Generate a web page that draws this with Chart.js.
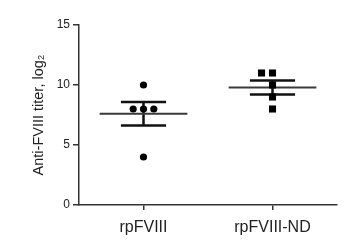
<!DOCTYPE html>
<html>
<head>
<meta charset="utf-8">
<script src="https://cdn.jsdelivr.net/npm/chart.js@4"></script>
<style>
  html, body { margin: 0; padding: 0; background: #fff; }
</style>
</head>
<body>
<canvas id="titerChart" width="350" height="245"></canvas>
<script>
// titer data per group //
const groups = ["rpFVIII", "rpFVIII-ND"];
const rpFVIII = [10, 8, 8, 8, 4];
const rpFVIIIND = [11, 11, 10, 9, 8];
// horizontal spread of the dots (in group units)
const jitterA = [0, -0.08, 0, 0.08, 0];
const jitterB = [-0.085, 0, 0, 0, 0];
const yTicks = [0, 5, 10, 15];

const axisColor = "#333";
const fontName = "'Liberation Sans', Arial, sans-serif";

function mean(arr) {
  return arr.reduce((a, b) => a + b, 0) / arr.length;
}
function sem(arr) {
  const m = mean(arr);
  let ss = 0;
  arr.forEach(v => { ss += (v - m) * (v - m); });
  return Math.sqrt(ss / (arr.length - 1)) / Math.sqrt(arr.length);
}

function dots(values, jitter, center) {
  return values.map((v, i) => ({ x: center + jitter[i], y: v }));
}

// mean line, SEM caps and the stem joining them
function meanSem(values, center) {
  const m = mean(values), s = sem(values);
  const half = 0.34, cap = 0.175;
  const gap = { x: center, y: null };
  return {
    mean: [{ x: center - half, y: m }, { x: center + half, y: m }],
    bars: [
      { x: center - cap, y: m + s }, { x: center + cap, y: m + s }, gap,
      { x: center - cap, y: m - s }, { x: center + cap, y: m - s }, gap,
      { x: center, y: m + s }, { x: center, y: m - s }
    ]
  };
}

const statsA = meanSem(rpFVIII, 1);
const statsB = meanSem(rpFVIIIND, 2);

var ctx = document.getElementById("titerChart").getContext('2d');

var myChart = new Chart(ctx, {
  type: 'scatter',
  data: {
    datasets: [
      {
        label: groups[0],
        data: dots(rpFVIII, jitterA, 1),
        pointStyle: 'circle',
        pointRadius: 3.6,
        backgroundColor: "#000",
        borderWidth: 0
      },
      {
        label: groups[1],
        data: dots(rpFVIIIND, jitterB, 2),
        pointStyle: 'rect',
        pointRadius: 5,
        backgroundColor: "#000",
        borderWidth: 0
      },
      { type: 'line', data: statsA.mean, borderColor: "#3a3a3a", borderWidth: 2, pointRadius: 0, spanGaps: false },
      { type: 'line', data: statsB.mean, borderColor: "#3a3a3a", borderWidth: 2, pointRadius: 0, spanGaps: false },
      { type: 'line', data: statsA.bars, borderColor: "#111", borderWidth: 2.5, pointRadius: 0, spanGaps: false },
      { type: 'line', data: statsB.bars, borderColor: "#111", borderWidth: 2.5, pointRadius: 0, spanGaps: false }
    ]
  },
  options: {
    responsive: false,
    animation: false,
    layout: {
      padding: { left: 0, right: 13, top: 25, bottom: 0 }
    },
    plugins: {
      legend: { display: false },
      tooltip: { enabled: false }
    },
    scales: {
      x: {
        type: 'linear',
        min: 0.5,
        max: 2.5,
        afterBuildTicks: function(scale) {
          scale.ticks = groups.map((g, i) => ({ value: i + 1 }));
        },
        afterFit: function(scale) {
          scale.height = 40;
        },
        ticks: {
          color: "#222",
          padding: 8,
          maxRotation: 0,
          font: { family: fontName, size: 16 },
          callback: function(value) {
            return groups[value - 1];
          }
        },
        grid: {
          drawOnChartArea: false,
          color: axisColor,
          lineWidth: 1.5,
          tickLength: 5
        },
        border: { color: axisColor, width: 1.5 }
      },
      y: {
        min: 0,
        max: 15,
        afterBuildTicks: function(scale) {
          scale.ticks = yTicks.map(v => ({ value: v }));
        },
        afterFit: function(scale) {
          scale.width = 79;
        },
        ticks: {
          color: "#222",
          padding: 3,
          font: { family: fontName, size: 12 }
        },
        grid: {
          drawOnChartArea: false,
          color: axisColor,
          lineWidth: 1.5,
          tickLength: 6
        },
        border: { color: axisColor, width: 1.5 },
        title: {
          display: true,
          text: "Anti-FVIII titer, log\u2082",
          color: "#222",
          padding: { top: 30, bottom: 0 },
          font: { family: fontName, size: 14.5 }
        }
      }
    }
  }
});
</script>
</body>
</html>
